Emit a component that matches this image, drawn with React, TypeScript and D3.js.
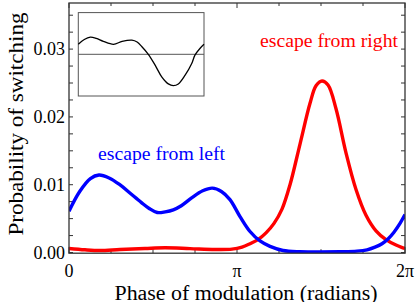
import React from 'react';
import * as d3 from 'd3';

const PI = Math.PI;

// escape from left (blue)
const leftPhase = [0.0, 0.2, 0.4, 0.56, 0.75, 0.95, 1.15, 1.35, 1.5, 1.65, 1.8, 1.95, 2.1, 2.3, 2.5, 2.68, 2.85, 3.01, 3.198, 3.385, 3.572, 3.759, 4.002, 4.32, 4.694, 5.068, 5.386, 5.573, 5.722, 5.853, 5.965, 6.077, 6.19, 6.283];
const leftProb = [0.0061, 0.009, 0.0109, 0.01143, 0.011, 0.01, 0.0087, 0.0074, 0.0065, 0.0059, 0.006, 0.0063, 0.0069, 0.0081, 0.0091, 0.0095, 0.009, 0.0078, 0.0053, 0.0031, 0.0017, 0.0009, 0.0003, 0.00012, 0.0001, 0.00012, 0.0002, 0.0004, 0.0008, 0.0013, 0.002, 0.003, 0.0043, 0.0056];

// escape from right (red)
const rightPhase = [0.0, 0.299, 0.58, 0.954, 1.421, 1.795, 2.263, 2.73, 3.048, 3.235, 3.385, 3.534, 3.684, 3.834, 3.983, 4.133, 4.32, 4.507, 4.619, 4.731, 4.844, 4.993, 5.18, 5.367, 5.554, 5.741, 5.928, 6.115, 6.283];
const rightProb = [0.0006, 0.0004, 0.0003, 0.00045, 0.0006, 0.0007, 0.00058, 0.00045, 0.0005, 0.0008, 0.0013, 0.0019, 0.0029, 0.0043, 0.0064, 0.01, 0.016, 0.022, 0.0246, 0.0253, 0.0247, 0.0212, 0.0147, 0.0093, 0.0055, 0.0032, 0.0019, 0.0011, 0.0006];

// inset curve (arbitrary units)
const insetPhase = [0.0, 0.3, 0.6, 0.9, 1.25, 1.76, 2.19, 2.68, 2.94, 3.18, 3.5, 3.84, 4.17, 4.5, 4.75, 5.0, 5.34, 5.67, 5.83, 6.08, 6.283];
const insetValue = [0.24, 0.355, 0.41, 0.38, 0.31, 0.24, 0.31, 0.34, 0.295, 0.18, 0.0, -0.26, -0.54, -0.71, -0.75, -0.71, -0.5, -0.22, -0.02, 0.14, 0.24];

const yTickValues = [0, 0.01, 0.02, 0.03];
const yTickLabels = ['0.00', '0.01', '0.02', '0.03'];
const yMinorValues = d3.range(0, 0.0375, 0.0025);
const xTickValues = [0, PI, 2 * PI];
const xTickLabels = ['0', 'π', '2π'];
const xMinorValues = d3.range(0, 8.5).map((k) => (k * PI) / 4);

const FONT = "Liberation Serif, DejaVu Serif, serif";

export default function App() {
  const W = 415;
  const H = 302;
  const L = 69, R = 405, T = 3, B = 253.2;
  const x = d3.scaleLinear().domain([0, 2 * PI]).range([L, R]);
  const y = d3.scaleLinear().domain([-0.0001, 0.0368]).range([B, T]);

  const line = d3
    .line<[number, number]>()
    .x((d) => x(d[0]))
    .y((d) => y(d[1]))
    .curve(d3.curveCatmullRom.alpha(0.5));

  const leftData: [number, number][] = leftPhase.map((p, i) => [p, leftProb[i]]);
  const rightData: [number, number][] = rightPhase.map((p, i) => [p, rightProb[i]]);

  const ix = d3.scaleLinear().domain([0, 2 * PI]).range([78.3, 204]);
  const iy = d3.scaleLinear().domain([-1, 1]).range([96, 12.6]);
  const insetLine = d3
    .line<[number, number]>()
    .x((d) => ix(d[0]))
    .y((d) => iy(d[1]))
    .curve(d3.curveCatmullRom.alpha(0.5));
  const insetData: [number, number][] = insetPhase.map((p, i) => [p, insetValue[i]]);

  const frameColor = '#333';

  return (
    <svg
      width={W}
      height={H}
      fontFamily={FONT}
      style={{ position: 'absolute', left: 0, top: 0, background: '#fff' }}
    >
      <defs>
        <clipPath id="plotclip">
          <rect x={L} y={T} width={R - L} height={B - T} />
        </clipPath>
      </defs>

      {yMinorValues.map((v, i) => (
        <g key={'ym' + i} stroke={frameColor} strokeWidth={1}>
          <line x1={L} x2={L + 4} y1={y(v)} y2={y(v)} />
          <line x1={R} x2={R - 4} y1={y(v)} y2={y(v)} />
        </g>
      ))}
      {xMinorValues.map((v, i) => {
        const major = i % 4 === 0;
        const len = major ? 6 : 4;
        return (
          <g key={'xm' + i} stroke={frameColor} strokeWidth={1}>
            <line x1={x(v)} x2={x(v)} y1={B} y2={B - len} />
            <line x1={x(v)} x2={x(v)} y1={T} y2={T + len - 1} />
          </g>
        );
      })}

      {/* inset */}
      <rect x={78.3} y={12.6} width={125.7} height={83.4} fill="#fff" stroke="#555" strokeWidth={1} />
      <line x1={78.3} x2={204} y1={iy(0)} y2={iy(0)} stroke="#555" strokeWidth={1} />
      <path d={insetLine(insetData) || ''} fill="none" stroke="#000" strokeWidth={1.3} />

      {/* curves */}
      <g clipPath="url(#plotclip)">
        <path d={line(rightData) || ''} fill="none" stroke="#ff0000" strokeWidth={3.4} strokeLinejoin="round" />
        <path d={line(leftData) || ''} fill="none" stroke="#0000ff" strokeWidth={3.4} strokeLinejoin="round" />
      </g>

      <rect x={L} y={T} width={R - L} height={B - T} fill="none" stroke={frameColor} strokeWidth={1.3} />

      {yTickValues.map((v, i) => (
        <text key={'yl' + i} x={65} y={y(v) + 6} textAnchor="end" fontSize={18} fill="#000" fontFamily={FONT}>
          {yTickLabels[i]}
        </text>
      ))}
      {xTickValues.map((v, i) => (
        <text key={'xl' + i} x={x(v)} y={277} textAnchor="middle" fontSize={18} fill="#000" fontFamily={FONT}>
          {xTickLabels[i]}
        </text>
      ))}

      <text x={246} y={299.5} textAnchor="middle" fontSize={20} fill="#000" textLength={263} lengthAdjust="spacingAndGlyphs" fontFamily={FONT}>
        Phase of modulation (radians)
      </text>
      <text
        transform="translate(23,124) rotate(-90)"
        textAnchor="middle"
        fontSize={21}
        fill="#000"
        textLength={223}
        lengthAdjust="spacingAndGlyphs"
        fontFamily={FONT}
      >
        Probability of switching
      </text>

      <text x={98} y={160} fontSize={18} fill="#0000ff" textLength={127} lengthAdjust="spacingAndGlyphs" fontFamily={FONT}>
        escape from left
      </text>
      <text x={260} y={47} fontSize={18} fill="#ff0000" textLength={138} lengthAdjust="spacingAndGlyphs" fontFamily={FONT}>
        escape from right
      </text>
    </svg>
  );
}
